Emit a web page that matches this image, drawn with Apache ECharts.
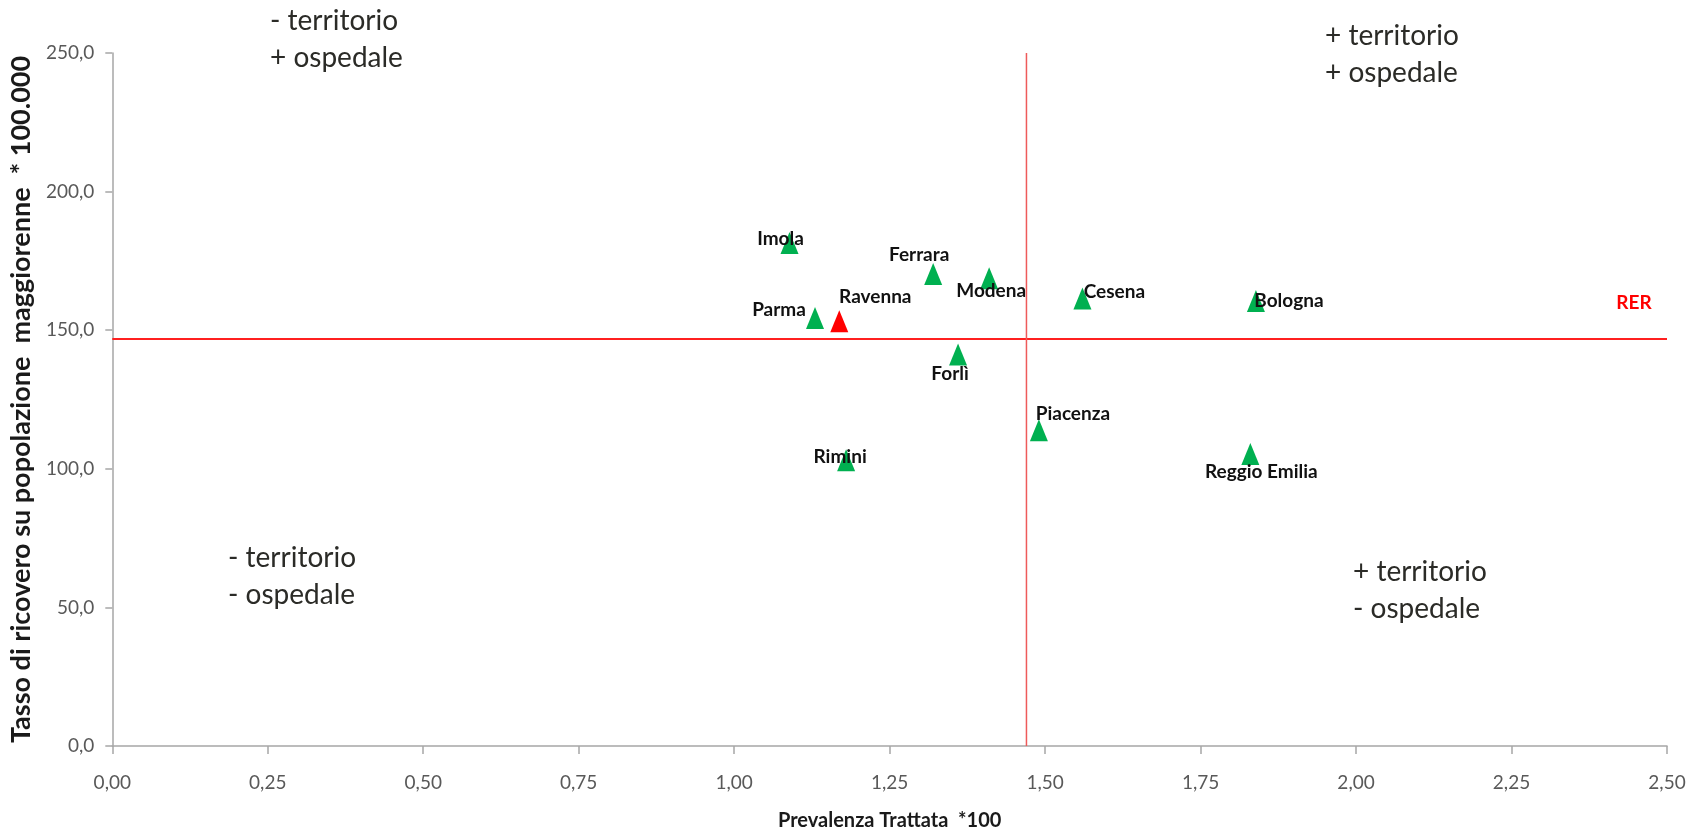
<!DOCTYPE html>
<html>
<head>
<meta charset="utf-8">
<script src="https://cdn.jsdelivr.net/npm/echarts@6/dist/echarts.min.js"></script>
<style>
  html, body { margin: 0; padding: 0; background: #ffffff; }
  #chart { width: 1691px; height: 836px; }
</style>
</head>
<body>
<div id="chart"></div>
<script>
// Aziende USL: prevalenza trattata (*100) vs tasso di ricovero (*100.000)
var aziende = ['Imola', 'Ferrara', 'Modena', 'Cesena', 'Bologna', 'Parma', 'Ravenna', 'Forlì', 'Piacenza', 'Rimini', 'Reggio Emilia'];
var prevalenza = [1.089, 1.320, 1.410, 1.560, 1.839, 1.130, 1.169, 1.360, 1.490, 1.180, 1.830];
var tassoRicovero = [181.5, 170.3, 168.7, 161.4, 160.5, 154.4, 153.2, 141.2, 113.9, 103.1, 105.3];

// Regional reference values (RER)
var rerPrevalenza = 1.47;
var rerTasso = 146.8;

// Axis ranges
var xRange = [0, 2.5];
var yRange = [0, 250];

// Azienda drawn in red
var evidenziata = 'Ravenna';

// Label placement relative to each marker (pixels)
var labelOffset = {
  'Imola': [-9, -4],
  'Ferrara': [-14, -19],
  'Modena': [2, 13],
  'Cesena': [32, -7],
  'Bologna': [33, 0],
  'Parma': [-36, -8],
  'Ravenna': [36, -24],
  'Forlì': [-8, 19],
  'Piacenza': [34, -16],
  'Rimini': [-6, -3],
  'Reggio Emilia': [11, 18]
};

var FONT = 'Lato, "Open Sans", sans-serif';

var points = aziende.map(function (name, i) {
  var item = {
    name: name,
    value: [prevalenza[i], tassoRicovero[i]],
    label: { offset: labelOffset[name] }
  };
  if (name === evidenziata) item.itemStyle = { color: '#ff0000', opacity: 1 };
  return item;
});

function comma(v, d) { return v.toFixed(d).replace('.', ','); }

var chart = echarts.init(document.getElementById('chart'), null, { renderer: 'canvas' });

chart.setOption({
  animation: false,
  backgroundColor: '#ffffff',
  grid: { left: 111, right: 24, top: 53, bottom: 90, containLabel: false },
  xAxis: {
    type: 'value',
    min: xRange[0], max: xRange[1], interval: 0.25,
    name: 'Prevalenza Trattata  *100',
    nameLocation: 'middle',
    nameGap: 65,
    nameTextStyle: { fontFamily: FONT, fontWeight: 'bold', fontSize: 20, color: '#1a1a1a' },
    axisLine: { show: true, onZero: false, lineStyle: { color: '#a6a6a6', width: 1.5 } },
    axisTick: { show: true, inside: false, length: 8, lineStyle: { color: '#a6a6a6', width: 1.5 } },
    axisLabel: { margin: 27, fontFamily: FONT, fontSize: 19, color: '#595959', formatter: function (v) { return comma(v, 2); } },
    splitLine: { show: false }
  },
  yAxis: {
    type: 'value',
    min: yRange[0], max: yRange[1], interval: 50,
    name: 'Tasso di ricovero su popolazione  maggiorenne  * 100.000',
    nameLocation: 'middle',
    nameGap: 70,
    nameTextStyle: { fontFamily: FONT, fontWeight: 'bold', fontSize: 27, color: '#1a1a1a' },
    axisLine: { show: true, onZero: false, lineStyle: { color: '#a6a6a6', width: 1.5 } },
    axisTick: { show: true, inside: false, length: 7, lineStyle: { color: '#a6a6a6', width: 1.5 } },
    axisLabel: { margin: 18, fontFamily: FONT, fontSize: 19, color: '#595959', formatter: function (v) { return comma(v, 1); } },
    splitLine: { show: false }
  },
  series: [
    {
      // horizontal regional line, labelled at its right end
      type: 'line',
      z: 1,
      silent: true,
      symbol: 'circle',
      symbolSize: 1,
      showSymbol: true,
      itemStyle: { color: 'rgba(255,0,0,0)' },
      lineStyle: { color: '#ff2020', width: 2 },
      data: [
        [xRange[0], rerTasso],
        {
          value: [xRange[1], rerTasso],
          label: {
            show: true, position: 'inside', offset: [-33, -36], formatter: 'RER',
            fontFamily: FONT, fontWeight: 'bold', fontSize: 19, color: '#ff0000'
          }
        }
      ]
    },
    {
      // vertical regional line
      type: 'line',
      z: 1,
      silent: true,
      symbol: 'none',
      lineStyle: { color: '#ee5a5a', width: 1.5 },
      data: [[rerPrevalenza, yRange[0]], [rerPrevalenza, yRange[1]]]
    },
    {
      type: 'scatter',
      z: 3,
      symbol: 'triangle',
      symbolSize: [18, 22],
      itemStyle: { color: '#00b050', opacity: 1 },
      label: {
        show: true,
        position: 'inside',
        formatter: '{b}',
        fontFamily: FONT, fontWeight: 'bold', fontSize: 19, color: '#111111'
      },
      data: points
    }
  ],
  graphic: [
    { type: 'text', left: 270, top: 2, style: { text: '- territorio\n+ ospedale', fontFamily: FONT, fontSize: 28, lineHeight: 37, fill: '#2b2b27' } },
    { type: 'text', left: 1325, top: 17, style: { text: '+ territorio\n+ ospedale', fontFamily: FONT, fontSize: 28, lineHeight: 37, fill: '#2b2b27' } },
    { type: 'text', left: 228, top: 539, style: { text: '- territorio\n- ospedale', fontFamily: FONT, fontSize: 28, lineHeight: 37, fill: '#2b2b27' } },
    { type: 'text', left: 1353, top: 553, style: { text: '+ territorio\n- ospedale', fontFamily: FONT, fontSize: 28, lineHeight: 37, fill: '#2b2b27' } }
  ]
});
</script>
</body>
</html>
